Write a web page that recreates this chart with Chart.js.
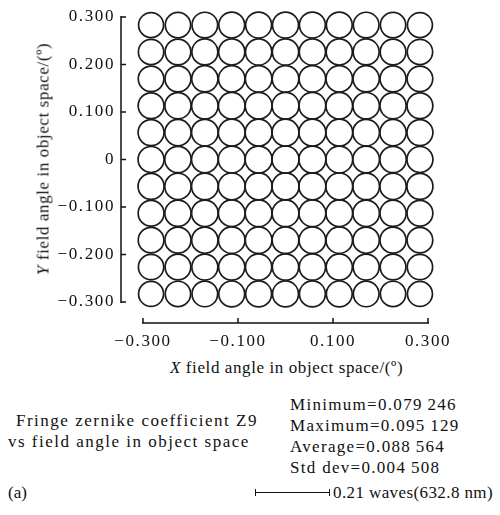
<!DOCTYPE html>
<html>
<head>
<meta charset="utf-8">
<script src="https://cdn.jsdelivr.net/npm/chart.js@4"></script>
<style>
body{margin:0;background:#fff;font-family:'Liberation Serif','DejaVu Serif',serif;color:#111}
#wrap{position:relative;width:500px;height:515px;overflow:hidden}
#plot{position:absolute;left:0;top:0;width:500px;height:350px}
.t{position:absolute;white-space:nowrap;letter-spacing:1px;font-size:17px;line-height:21px}
</style>
</head>
<body>
<div id="wrap">
<div id="plot"><canvas id="zchart"></canvas></div>
<div class="t" id="ytitle" style="left:43px;top:159px;transform:translate(-50%,-50%) rotate(-90deg);letter-spacing:0.6px"><i>Y</i> field angle in object space/(º)</div>
<div class="t" style="left:170px;top:357px;letter-spacing:0.6px"><i>X</i> field angle in object space/(º)</div>
<div class="t" style="left:16px;top:410px;letter-spacing:1.5px">Fringe zernike coefficient Z9</div>
<div class="t" style="left:8px;top:431px;letter-spacing:1.5px">vs field angle in object space</div>
<div class="t" style="left:290px;top:394px;letter-spacing:1.3px">Minimum=0.079&thinsp;246<br>Maximum=0.095&thinsp;129<br>Average=0.088&thinsp;564<br>Std dev=0.004&thinsp;508</div>
<div class="t" style="left:8px;top:482px;letter-spacing:0">(a)</div>
<div style="position:absolute;left:255px;top:492px;width:75px;height:1px;background:#111"></div>
<div style="position:absolute;left:255px;top:489px;width:1px;height:7px;background:#111"></div>
<div style="position:absolute;left:329px;top:489px;width:1px;height:7px;background:#111"></div>
<div class="t" style="left:333px;top:482px;letter-spacing:0.4px">0.21 waves(632.8 nm)</div>
</div>
<script>
// field grid (degrees) and Z9 value (waves) at each field point, rows from top (+Y) to bottom (-Y)
const fieldX = [-0.30, -0.24, -0.18, -0.12, -0.06, 0, 0.06, 0.12, 0.18, 0.24, 0.30];
const fieldY = [0.30, 0.24, 0.18, 0.12, 0.06, 0, -0.06, -0.12, -0.18, -0.24, -0.30];
const z9 = [
  [0.0792, 0.0821, 0.0843, 0.0859, 0.0868, 0.0872, 0.0868, 0.0859, 0.0843, 0.0821, 0.0792],
  [0.0821, 0.0849, 0.0872, 0.0887, 0.0897, 0.0900, 0.0897, 0.0887, 0.0872, 0.0849, 0.0821],
  [0.0843, 0.0872, 0.0894, 0.0910, 0.0919, 0.0922, 0.0919, 0.0910, 0.0894, 0.0872, 0.0843],
  [0.0859, 0.0887, 0.0910, 0.0926, 0.0935, 0.0938, 0.0935, 0.0926, 0.0910, 0.0887, 0.0859],
  [0.0868, 0.0897, 0.0919, 0.0935, 0.0945, 0.0948, 0.0945, 0.0935, 0.0919, 0.0897, 0.0868],
  [0.0872, 0.0900, 0.0922, 0.0938, 0.0948, 0.0951, 0.0948, 0.0938, 0.0922, 0.0900, 0.0872],
  [0.0868, 0.0897, 0.0919, 0.0935, 0.0945, 0.0948, 0.0945, 0.0935, 0.0919, 0.0897, 0.0868],
  [0.0859, 0.0887, 0.0910, 0.0926, 0.0935, 0.0938, 0.0935, 0.0926, 0.0910, 0.0887, 0.0859],
  [0.0843, 0.0872, 0.0894, 0.0910, 0.0919, 0.0922, 0.0919, 0.0910, 0.0894, 0.0872, 0.0843],
  [0.0821, 0.0849, 0.0872, 0.0887, 0.0897, 0.0900, 0.0897, 0.0887, 0.0872, 0.0849, 0.0821],
  [0.0792, 0.0821, 0.0843, 0.0859, 0.0868, 0.0872, 0.0868, 0.0859, 0.0843, 0.0821, 0.0792]
];
const xTicks = [-0.3, -0.1, 0.1, 0.3];
const yTicks = [-0.3, -0.2, -0.1, 0, 0.1, 0.2, 0.3];

var pts = [];
var r, c;
for (r = 0; r < fieldY.length; r++) {
  for (c = 0; c < fieldX.length; c++) {
    pts.push({x: fieldX[c], y: fieldY[r], v: z9[r][c]});
  }
}

function fmt(v) {
  if (Math.abs(v) < 1e-9) return '0';
  return v.toFixed(3).replace('-', '\u2212');
}
function rad(ctx) {
  return ctx.raw ? 7.5 + 63 * ctx.raw.v : 13;
}

const tickFont = {family: "'Liberation Serif', serif", size: 17};

// axis lines drawn off the plot with inward ticks
const rangeFrame = {
  id: 'rangeFrame',
  beforeLayout(chart) { chart.ctx.letterSpacing = '1.6px'; },
  beforeDraw(chart) { chart.ctx.letterSpacing = '1.6px'; },
  afterDraw(chart) {
    const ctx = chart.ctx;
    const xs = chart.scales.x, ys = chart.scales.y;
    const ax = chart.chartArea.left - 22;
    const ay = chart.chartArea.bottom + 21;
    ctx.save();
    ctx.strokeStyle = '#111';
    ctx.lineWidth = 1.5;
    ctx.beginPath();
    ctx.moveTo(ax, ys.getPixelForValue(0.3) - 1);
    ctx.lineTo(ax, ys.getPixelForValue(-0.3) + 1);
    yTicks.forEach(function (t) {
      var p = ys.getPixelForValue(t);
      ctx.moveTo(ax, p);
      ctx.lineTo(ax + 5, p);
    });
    ctx.moveTo(xs.getPixelForValue(-0.3) - 1, ay);
    ctx.lineTo(xs.getPixelForValue(0.3) + 1, ay);
    xTicks.forEach(function (t) {
      var p = xs.getPixelForValue(t);
      ctx.moveTo(p, ay);
      ctx.lineTo(p, ay - 5);
    });
    ctx.stroke();
    ctx.restore();
  }
};

const chart = new Chart(document.getElementById('zchart'), {
  type: 'scatter',
  data: {
    datasets: [{
      label: 'Z9',
      data: pts,
      xAxisID: 'xf',
      yAxisID: 'yf',
      clip: false,
      pointStyle: 'circle',
      pointRadius: rad,
      pointHoverRadius: rad,
      backgroundColor: 'rgba(0,0,0,0)',
      borderColor: '#1c1c1c',
      borderWidth: 1.7
    }]
  },
  options: {
    responsive: true,
    maintainAspectRatio: false,
    animation: false,
    events: [],
    layout: {padding: {top: 17, right: 72, left: 0, bottom: 0}},
    plugins: {legend: {display: false}, tooltip: {enabled: false}},
    scales: {
      x: {
        type: 'linear', position: 'bottom', min: -0.3, max: 0.3,
        afterBuildTicks: function (s) { s.ticks = xTicks.map(function (v) { return {value: v}; }); },
        afterFit: function (s) { s.height = 48; s.paddingLeft = 0; s.paddingRight = 0; },
        grid: {display: false, drawTicks: false},
        border: {display: false},
        ticks: {font: tickFont, color: '#111', padding: 29, maxRotation: 0, callback: fmt}
      },
      y: {
        type: 'linear', position: 'left', min: -0.3, max: 0.3,
        afterBuildTicks: function (s) { s.ticks = yTicks.map(function (v) { return {value: v}; }); },
        afterFit: function (s) { s.width = 143; s.paddingTop = 0; s.paddingBottom = 0; },
        grid: {display: false, drawTicks: false},
        border: {display: false},
        ticks: {font: tickFont, color: '#111', padding: 28, callback: fmt}
      },
      xf: {type: 'linear', position: 'bottom', display: false, min: -0.318, max: 0.318},
      yf: {type: 'linear', position: 'left', display: false, min: -0.318, max: 0.318}
    }
  },
  plugins: [rangeFrame]
});
</script>
</body>
</html>
